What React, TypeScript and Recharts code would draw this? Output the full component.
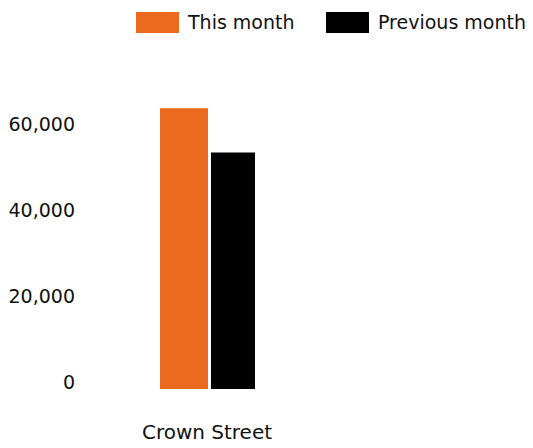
import React from "react";
import { BarChart, Bar, XAxis, YAxis, Legend } from "recharts";

const categories = ["Crown Street"];
const thisMonth = [65300];
const previousMonth = [55000];
const yTicks = [0, 20000, 40000, 60000];
const seriesNames = ["This month", "Previous month"];
const seriesColors = ["#EC6A1E", "#000000"];

const data = categories.map((c, i) => ({
  name: c,
  thisMonth: thisMonth[i],
  previousMonth: previousMonth[i],
}));

const FONT = "'DejaVu Sans', sans-serif";
const TEXT = "#111111";

const YTick = (props: any) => {
  const { x, y, payload } = props;
  return (
    <text x={x} y={y} textAnchor="end" fill={TEXT} fontSize={19} fontFamily={FONT}>
      {Number(payload.value).toLocaleString("en-US")}
    </text>
  );
};

const LegendContent = () => (
  <div style={{ height: 45, display: "flex", alignItems: "flex-start", fontFamily: FONT, fontSize: 19, color: TEXT }}>
    {seriesNames.map((n, i) => (
      <div
        key={n}
        style={{ display: "flex", alignItems: "center", width: i === 0 ? 190 : "auto", marginTop: 12, whiteSpace: "nowrap" }}
      >
        <div style={{ width: 43, height: 21, background: seriesColors[i], marginRight: 9 }} />
        <span style={{ lineHeight: "21px" }}>{n}</span>
      </div>
    ))}
  </div>
);

export default function App() {
  return (
    <div style={{ position: "absolute", left: 0, top: 0, width: 533, height: 448, background: "#fff" }}>
      <BarChart
        width={533}
        height={448}
        data={data}
        margin={{ top: 0, right: 209, bottom: 29, left: 0 }}
        barGap={3}
      >
        <Legend
          verticalAlign="top"
          align="left"
          content={<LegendContent />}
          wrapperStyle={{ left: 136, right: "auto", top: 0, width: 400, height: 45 }}
        />
        <XAxis
          dataKey="name"
          axisLine={false}
          tickLine={false}
          tickSize={0}
          tickMargin={36}
          tick={{ fill: TEXT, fontSize: 20, fontFamily: FONT }}
        />
        <YAxis
          width={90}
          domain={[0, 80000]}
          ticks={yTicks}
          axisLine={false}
          tickLine={false}
          tickSize={0}
          tickMargin={15}
          tick={<YTick />}
          interval={0}
        />
        <Bar dataKey="thisMonth" name={seriesNames[0]} fill={seriesColors[0]} barSize={48} isAnimationActive={false} />
        <Bar dataKey="previousMonth" name={seriesNames[1]} fill={seriesColors[1]} barSize={44} isAnimationActive={false} />
      </BarChart>
    </div>
  );
}
